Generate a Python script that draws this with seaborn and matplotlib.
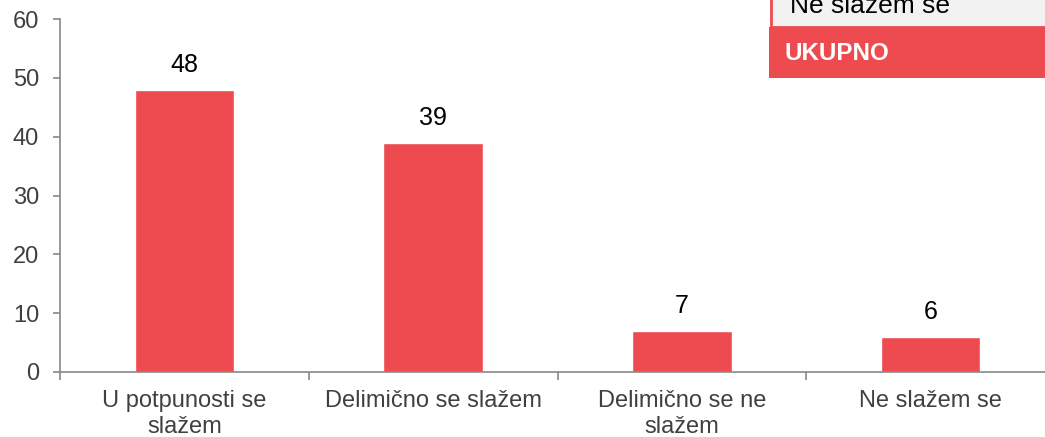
import matplotlib
matplotlib.use("Agg")
import matplotlib.pyplot as plt
import seaborn as sns
import pandas as pd
from matplotlib.patches import Rectangle

categories = ["U potpunosti se\nslažem", "Delimično se slažem", "Delimično se ne\nslažem", "Ne slažem se"]
values = [48, 39, 7, 6]
yticks = [0, 10, 20, 30, 40, 50, 60]
legend_items = ["Ne slažem se", "UKUPNO"]

RED = "#ED4B4F"
sns.set_theme(style="white")
plt.rcParams["font.family"] = ["Liberation Sans", "DejaVu Sans"]

df = pd.DataFrame({"cat": categories, "val": values})

fig = plt.figure(figsize=(10.45, 4.37), dpi=100)
ax = fig.add_axes([60/1045, 65/437, 995/1045, 353/437])
sns.barplot(data=df, x="cat", y="val", color=RED, width=0.4, saturation=1, ax=ax)

ax.set_ylim(0, 60)
ax.set_xlim(-0.5, 3.5)
ax.set_yticks(yticks)
ax.set_xlabel("")
ax.set_ylabel("")
for s in ["top", "right"]:
    ax.spines[s].set_visible(False)
for s in ["left", "bottom"]:
    ax.spines[s].set_color("#888888")
    ax.spines[s].set_linewidth(1.2)

ax.tick_params(axis="y", labelsize=17, colors="#404040", length=5, width=1.2, color="#888888", direction="out", left=True, pad=10)
ax.set_xticks([0, 1, 2, 3])
ax.set_xticklabels(categories, fontsize=17, color="#404040", linespacing=1.22)
ax.tick_params(axis="x", bottom=False, pad=7)
ax.set_xticks([-0.5, 0.5, 1.5, 2.5, 3.5], minor=True)
ax.tick_params(axis="x", which="minor", bottom=True, length=6, width=1.2, color="#888888", direction="out")

for c in ax.containers:
    ax.bar_label(c, labels=[str(v) for v in values], padding=9, fontsize=18, color="black")

# overlay legend box (top-right)
fig.patches.append(Rectangle((771/1045, (437-27)/437), 280/1045, 30/437, transform=fig.transFigure,
                             facecolor="#F2F2F2", edgecolor=RED, linewidth=2, clip_on=False))
fig.patches.append(Rectangle((769/1045, (437-78)/437), 280/1045, 51/437, transform=fig.transFigure,
                             facecolor=RED, edgecolor="none", clip_on=False))
fig.text(790/1045, (437-13)/437, legend_items[0], fontsize=19, color="black", va="baseline", ha="left")
fig.text(785/1045, (437-53)/437, legend_items[1], fontsize=17.4, color="white", fontweight="bold", va="center", ha="left")

fig.savefig("out.png", dpi=100)
